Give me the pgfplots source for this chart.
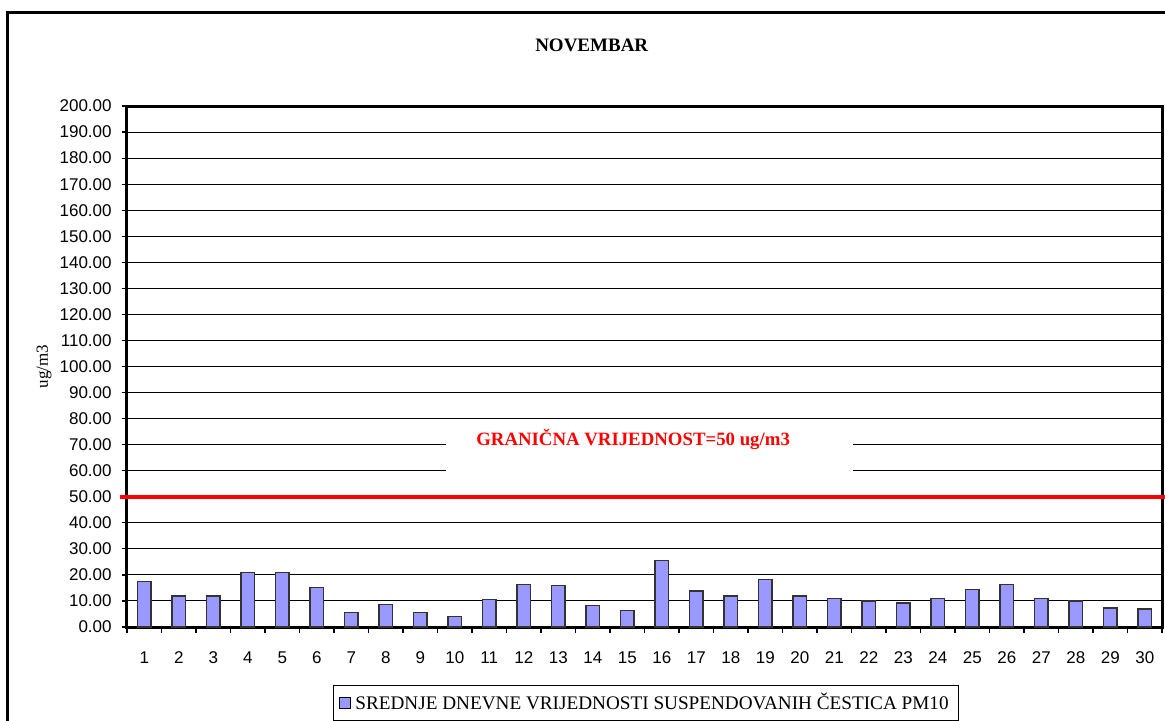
\documentclass[border=0pt]{standalone}
\usepackage{fontspec}
\setmainfont{Liberation Serif}
\newfontfamily\ticksans{Liberation Sans}
\usepackage{pgfplots}
\pgfplotsset{compat=1.18}
\definecolor{barblue}{HTML}{9999FF}
\definecolor{limred}{HTML}{FF0000}
\begin{document}
\begin{tikzpicture}
\begin{axis}[
  at={(0pt,0pt)}, anchor=south west,
  scale only axis, width=517.5pt, height=260.5pt,
  xmin=0.5, xmax=30.5, ymin=0, ymax=200,
  clip=false,
  axis line style={line width=1.5pt, black},
  tick align=outside,
  xtick={1,...,30},
  major x tick style={draw=none},
  minor xtick={0.5,1.5,...,30.5},
  minor tick length=3pt,
  minor x tick style={black, line width=0.6pt},
  xtick pos=bottom, ytick pos=left,
  ytick={0,10,...,200},
  major tick length=2.5pt,
  major y tick style={black, line width=0.6pt},
  ymajorgrids,
  grid style={black, line width=0.5pt},
  yticklabel style={font=\ticksans\fontsize{8.5}{10}\selectfont, inner sep=0pt, anchor=east, xshift=-5pt},
  xticklabel style={font=\ticksans\fontsize{8.5}{10}\selectfont, inner sep=0pt, anchor=center, yshift=-13pt},
  yticklabel={\pgfmathprintnumber[fixed, fixed zerofill, precision=2, assume math mode=true]{\tick}},
  /pgf/number format/assume math mode=true,
  ylabel={ug/m3},
  every axis y label/.style={at={(axis description cs:0,0.5)}, xshift=-41.5pt, rotate=90, anchor=center, font=\fontsize{8.5}{10}\selectfont},
  title={NOVEMBAR},
  title style={at={(axis description cs:0.449,1.094)}, anchor=center, font=\bfseries\fontsize{9.5}{11}\selectfont},
  legend style={at={(axis description cs:0.5015,-0.146)}, anchor=center, draw=black, line width=0.5pt, font=\fontsize{9.6}{11}\selectfont, inner xsep=3pt, inner ysep=2pt},
  legend image code/.code={\draw[fill=barblue, draw=black, line width=0.5pt] (0pt,-2.75pt) rectangle (5.5pt,2.75pt);},
]
\addplot[ybar, bar width=0.39, fill=barblue, draw=black!80, line width=0.6pt] coordinates {
(1,17.6) (2,11.9) (3,11.9) (4,20.8) (5,20.8) (6,15.3) (7,5.5) (8,8.7) (9,5.5) (10,4.1)
(11,10.6) (12,16.3) (13,15.8) (14,8.3) (15,6.4) (16,25.5) (17,13.8) (18,11.9) (19,18.1) (20,11.9)
(21,11.0) (22,10.0) (23,9.2) (24,11.0) (25,14.4) (26,16.3) (27,11.0) (28,10.0) (29,7.3) (30,6.9)
};
\addlegendentry{SREDNJE DNEVNE VRIJEDNOSTI SUSPENDOVANIH ČESTICA PM10}
\fill[white] (axis cs:9.75,54.9) rectangle (axis cs:21.54,77.9);
\addplot[limred, line width=2pt, forget plot] coordinates {(0.3,50) (30.6,50)};
\node[text=limred, font=\bfseries\fontsize{9.4}{11}\selectfont] at (axis cs:15.17,72.2) {GRANIČNA VRIJEDNOST=50 ug/m3};
\end{axis}
\draw[line width=1.5pt] (-59.5pt,-60pt) -- (-59.5pt,307.5pt) -- (530pt,307.5pt);
\pgfresetboundingbox
\path[use as bounding box] (-63.5pt,-46.5pt) rectangle (519pt,313.5pt);
\end{tikzpicture}
\end{document}
